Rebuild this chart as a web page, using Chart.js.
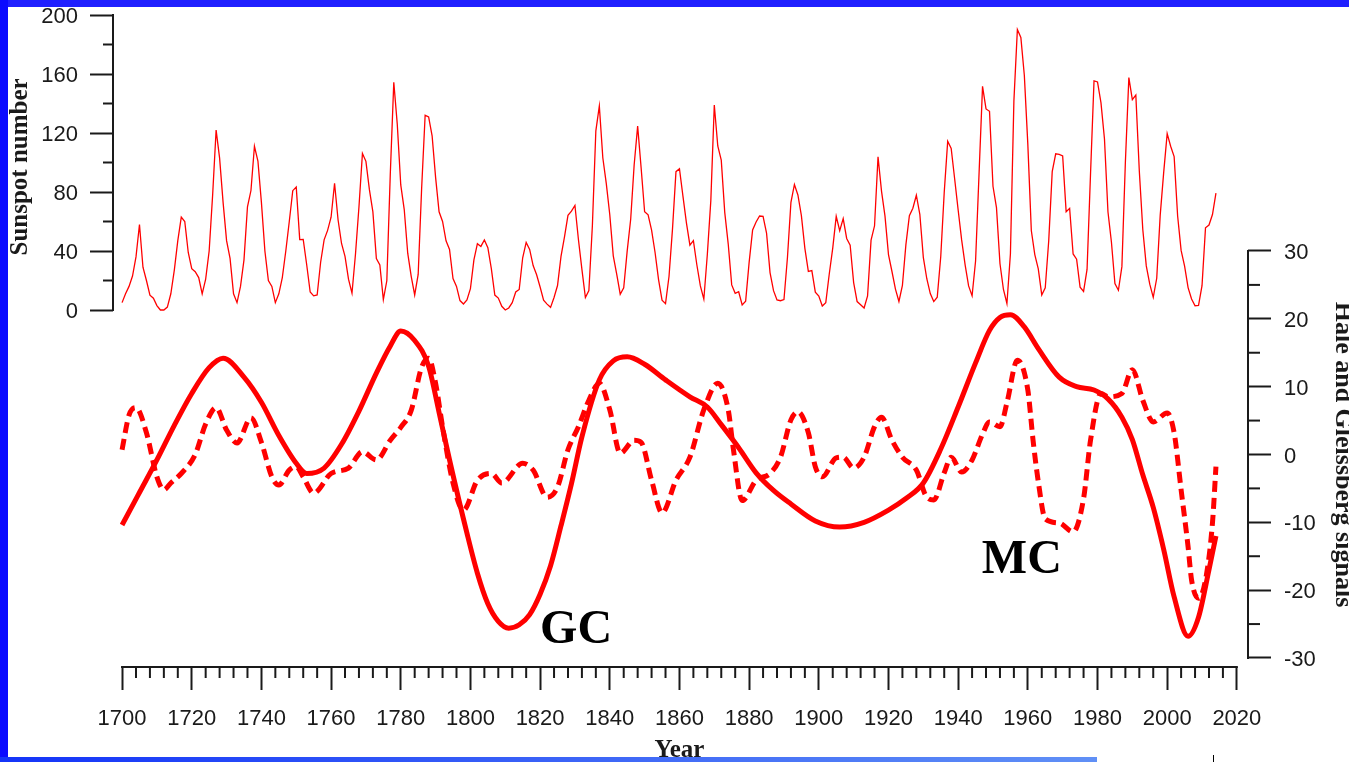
<!DOCTYPE html>
<html>
<head>
<meta charset="utf-8">
<title>Sunspot number, Hale and Gleissberg signals</title>
<script src="https://cdn.jsdelivr.net/npm/chart.js@4.4.1/dist/chart.umd.min.js"></script>
<style>
  html, body { margin: 0; padding: 0; background: #fff; overflow: hidden; }
  #wrap { position: relative; width: 1349px; height: 762px; }
  .bar { position: absolute; }
  #topBar { left: 0; top: 0; width: 1349px; height: 7px; background: #2020ff; }
  #leftBar { left: 0; top: 0; width: 8px; height: 762px; background: #0a0aff; }
  #bottomBar { left: 0; top: 757px; width: 1097px; height: 5px; background: linear-gradient(to right, #1434f8, #6090f6); }
  #mark { left: 1213px; top: 755px; width: 1px; height: 7px; background: #000; }
</style>
</head>
<body>
<div id="wrap">
  <canvas id="chart"></canvas>
  <div class="bar" id="topBar"></div>
  <div class="bar" id="leftBar"></div>
  <div class="bar" id="bottomBar"></div>
  <div class="bar" id="mark"></div>
</div>
<script>
// yearly sunspot numbers, 1700 .. 2014
const sunStart = 1700;
const sunspots = [
  5, 11, 16, 23, 36, 58, 29, 20, 10, 8,
  3, 0, 0, 2, 11, 27, 47, 63, 60, 39,
  28, 26, 22, 11, 21, 40, 78, 122, 103, 73,
  47, 35, 11, 5, 16, 34, 70, 81, 111, 101,
  73, 40, 20, 16, 5, 11, 22, 40, 60, 80.9,
  83.4, 47.7, 47.8, 30.7, 12.2, 9.6, 10.2, 32.4, 47.6, 54,
  62.9, 85.9, 61.2, 45.1, 36.4, 20.9, 11.4, 37.8, 69.8, 106.1,
  100.8, 81.6, 66.5, 34.8, 30.6, 7, 19.8, 92.5, 154.4, 125.9,
  84.8, 68.1, 38.5, 22.8, 10.2, 24.1, 82.9, 132, 130.9, 118.1,
  89.9, 66.6, 60, 46.9, 41, 21.3, 16, 6.4, 4.1, 6.8,
  14.5, 34, 45, 43.1, 47.5, 42.2, 28.1, 10.1, 8.1, 2.5,
  0, 1.4, 5, 12.2, 13.9, 35.4, 45.8, 41.1, 30.1, 23.9,
  15.6, 6.6, 4, 1.8, 8.5, 16.6, 36.3, 49.6, 64.2, 67,
  70.9, 47.8, 27.5, 8.5, 13.2, 56.9, 121.5, 138.3, 103.2, 85.7,
  64.6, 36.7, 24.2, 10.7, 15, 40.1, 61.5, 98.5, 124.7, 96.3,
  66.6, 64.5, 54.1, 39, 20.6, 6.7, 4.3, 22.7, 54.8, 93.8,
  95.8, 77.2, 59.1, 44, 47, 30.5, 16.3, 7.3, 37.6, 74,
  139, 111.2, 101.6, 66.2, 44.7, 17, 11.3, 12.4, 3.4, 6,
  32.3, 54.3, 59.7, 63.7, 63.5, 52.2, 25.4, 13.1, 6.8, 6.3,
  7.1, 35.6, 73, 85.1, 78, 64, 41.8, 26.2, 26.7, 12.1,
  9.5, 2.7, 5, 24.4, 42, 63.5, 53.8, 62, 48.5, 43.9,
  18.6, 5.7, 3.6, 1.4, 9.6, 47.4, 57.1, 103.9, 80.6, 63.6,
  37.6, 26.1, 14.2, 5.8, 16.7, 44.3, 63.9, 69, 77.8, 64.9,
  35.7, 21.2, 11.1, 5.7, 8.7, 36.1, 79.7, 114.4, 109.6, 88.8,
  67.8, 47.5, 30.6, 16.3, 9.6, 33.2, 92.6, 151.6, 136.3, 134.7,
  83.9, 69.4, 31.5, 13.9, 4.4, 38, 141.7, 190.2, 184.8, 159,
  112.3, 53.9, 37.6, 27.9, 10.2, 15.1, 47, 93.8, 105.9, 105.5,
  104.5, 66.6, 68.9, 38, 34.5, 15.5, 12.6, 27.5, 92.5, 155.4,
  154.6, 140.4, 115.9, 66.6, 45.9, 17.9, 13.4, 29.4, 100.2, 157.6,
  142.6, 145.7, 94.3, 54.6, 29.9, 17.5, 8.6, 21.5, 64.3, 93.3,
  119.6, 111, 104, 63.7, 40.4, 29.8, 15.2, 7.5, 2.9, 3.1,
  16.5, 55.7, 57.6, 64.7, 79.3
];

// Gleissberg signal (solid line)
const gleissYears = [
  1700, 1705, 1710, 1715, 1720, 1725, 1729, 1735, 1740, 1745,
  1750, 1753, 1758, 1763, 1768, 1773, 1777, 1780, 1784, 1788,
  1791, 1794, 1799, 1802, 1805, 1808, 1811, 1814, 1817, 1820,
  1823, 1826, 1829, 1832, 1837, 1841, 1845, 1850, 1856, 1863,
  1868, 1872, 1877, 1882, 1887, 1892, 1899, 1906, 1913, 1920,
  1925, 1930, 1935, 1940, 1945, 1949, 1952, 1955, 1959, 1963,
  1969, 1974, 1979, 1983, 1987, 1990, 1993, 1996, 1999, 2002,
  2006, 2009, 2012, 2014
];
const gleissValues = [
  -10.4, -5.6, -0.8, 4.3, 9, 12.8, 14.2, 11.4, 7.7, 2.8,
  -1.3, -2.8, -2, 1.5, 6.4, 12, 16, 18.2, 16.8, 13,
  6.2, -0.8, -11.6, -17.5, -22, -24.6, -25.6, -25.1, -23.6, -20.6,
  -16.4, -10.5, -4.3, 2.6, 11, 13.8, 14.4, 13.3, 11, 8.5,
  7, 4.4, 1, -2.7, -5.3, -7.3, -9.8, -10.7, -10, -8.2,
  -6.5, -4.2, 0.8, 7, 13.5, 18.3, 20.2, 20.6, 18.8, 15.6,
  11.4, 10, 9.5, 8.2, 5.5, 2.2, -3, -7.8, -14, -21,
  -26.8, -24, -17, -12
];

// Hale signal (dashed line)
const haleYears = [
  1700, 1702, 1704, 1707, 1710, 1712, 1714, 1717, 1721, 1724,
  1727, 1730, 1733, 1737, 1740, 1743, 1745, 1748, 1750, 1752,
  1755, 1760, 1765, 1769, 1773, 1777, 1780, 1783, 1786, 1788,
  1790, 1792, 1795, 1798, 1802, 1806, 1809, 1815, 1818, 1822,
  1825, 1828, 1831, 1834, 1837, 1840, 1843, 1847, 1849, 1852,
  1855, 1859, 1863, 1867, 1871, 1874, 1875.5, 1878, 1882, 1886,
  1889, 1892, 1894, 1897, 1899, 1901, 1905, 1907, 1910, 1913,
  1916, 1918, 1921, 1924, 1928, 1931, 1933, 1936, 1938, 1941,
  1944, 1947, 1949, 1952, 1954, 1957, 1960, 1961.5, 1963, 1965,
  1969, 1973, 1976, 1978, 1981, 1983, 1987, 1990, 1993, 1996,
  2000, 2002, 2004, 2006, 2007, 2009, 2011, 2013, 2014
];
const haleValues = [
  0.7, 5.8, 6.9, 3.2, -3.3, -5.2, -4.2, -2.8, 0, 4.5,
  6.9, 3.6, 1.7, 5.4, 1.8, -3.3, -4.5, -2.3, -1.8, -3.3,
  -5.7, -2.8, -2, 0.4, -0.8, 2.1, 4, 6.5, 12.9, 14.2,
  10.5, 4.1, -4.2, -8.2, -3.8, -2.8, -4.2, -1.3, -2.3, -6.3,
  -4.8, 0.7, 4.1, 8, 10.5, 6.6, 0.2, 2.1, 1.8, -3.8,
  -8.6, -3.8, -0.4, 6.6, 10.5, 6.6, 0.7, -6.8, -3.8, -2.8,
  -0.4, 5.1, 6.3, 3.2, -1.8, -3.3, -0.5, -0.4, -2, -0.4,
  4.1, 5.5, 2.1, -0.4, -2.3, -6.3, -6.7, -2.7, -0.4, -2.6,
  -0.8, 3, 4.8, 4.1, 7.6, 13.9, 9.5, 2.1, -4, -9.5,
  -10.1, -11.4, -6.5, 2.1, 9, 8.5, 9, 12.5, 8, 4.8,
  6.1, 3.2, -5.2, -13.6, -18.5, -21.2, -18.5, -10.1, -1.8
];

// axis ranges
const yearRange = [1700, 2020];
const sunRange = [0, 200];
const signalRange = [-30, 30];

const RED = '#ff0000';
const INK = '#1a1a1a';
const serif = '"Liberation Serif", "Times New Roman", serif';
const sans = '"Liberation Sans", Arial, sans-serif';

function keepTicks(lo, hi) {
  return scale => {
    scale.ticks = scale.ticks.filter(t => t.value >= lo - 1e-9 && t.value <= hi + 1e-9);
  };
}

// fixed axis sizes, and no extra label padding pushing the plot area
function fixSize(prop, size) {
  return scale => {
    scale[prop] = size;
    scale.paddingTop = 0;
    scale.paddingBottom = 0;
  };
}

// draws axis lines only over the used ranges, minor ticks, titles and GC / MC
const axisMarks = {
  id: 'axisMarks',
  afterDraw(chart) {
    const { ctx, scales: { x, ySun, ySig } } = chart;
    ctx.save();
    ctx.strokeStyle = INK;
    ctx.lineWidth = 2;

    const seg = (x1, y1, x2, y2) => {
      ctx.beginPath();
      ctx.moveTo(x1, y1);
      ctx.lineTo(x2, y2);
      ctx.stroke();
    };

    // x axis
    const xa = x.top;
    seg(x.getPixelForValue(yearRange[0]) - 1, xa, x.getPixelForValue(yearRange[1]) + 1, xa);
    for (let v = yearRange[0]; v <= yearRange[1]; v += 4) {
      if (v % 20 !== 0) seg(x.getPixelForValue(v), xa, x.getPixelForValue(v), xa + 11);
    }

    // sunspot axis
    const sa = ySun.right;
    seg(sa, ySun.getPixelForValue(sunRange[0]) + 1, sa, ySun.getPixelForValue(sunRange[1]) - 1);
    for (let v = 20; v < sunRange[1]; v += 40) {
      seg(sa - 10, ySun.getPixelForValue(v), sa, ySun.getPixelForValue(v));
    }

    // signal axis
    const ga = ySig.left;
    seg(ga, ySig.getPixelForValue(signalRange[0]) + 1, ga, ySig.getPixelForValue(signalRange[1]) - 1);
    for (let v = -25; v < signalRange[1]; v += 10) {
      seg(ga, ySig.getPixelForValue(v), ga + 12, ySig.getPixelForValue(v));
    }

    // axis titles
    ctx.fillStyle = INK;
    ctx.font = 'bold 25px ' + serif;
    ctx.textAlign = 'center';
    ctx.textBaseline = 'alphabetic';

    ctx.save();
    ctx.translate(27, ySun.getPixelForValue(97));
    ctx.rotate(-Math.PI / 2);
    ctx.fillText('Sunspot number', 0, 0);
    ctx.restore();

    ctx.save();
    ctx.translate(1336, ySig.getPixelForValue(0));
    ctx.rotate(Math.PI / 2);
    ctx.font = 'bold 26px ' + serif;
    ctx.fillText('Hale and Gleissberg signals', 0, 0);
    ctx.restore();

    ctx.fillText('Year', (x.getPixelForValue(yearRange[0]) + x.getPixelForValue(yearRange[1])) / 2, 757);

    // cycle labels
    ctx.font = 'bold 48px ' + serif;
    ctx.textAlign = 'left';
    ctx.fillStyle = '#000';
    ctx.fillText('GC', x.getPixelForValue(1820), ySig.getPixelForValue(-27.8));
    ctx.fillText('MC', x.getPixelForValue(1946.8), ySig.getPixelForValue(-17.5));

    ctx.restore();
  }
};

const sunData = sunspots.map((v, i) => ({ x: sunStart + i, y: v }));
const gleissData = gleissYears.map((yr, i) => ({ x: yr, y: gleissValues[i] }));
const haleData = haleYears.map((yr, i) => ({ x: yr, y: haleValues[i] }));

const tickFont = { family: sans, size: 22 };
const tickGrid = { drawOnChartArea: false, drawTicks: true, tickLength: 23, tickColor: INK, tickWidth: 2 };

new Chart(document.getElementById('chart'), {
  type: 'line',
  data: {
    datasets: [
      {
        label: 'Sunspot number',
        data: sunData,
        yAxisID: 'ySun',
        borderColor: RED,
        borderWidth: 1.3,
        pointRadius: 0,
        tension: 0,
      },
      {
        label: 'Gleissberg',
        data: gleissData,
        yAxisID: 'ySig',
        borderColor: RED,
        borderWidth: 5,
        pointRadius: 0,
        cubicInterpolationMode: 'monotone',
      },
      {
        label: 'Hale',
        data: haleData,
        yAxisID: 'ySig',
        borderColor: RED,
        borderWidth: 5,
        borderDash: [11, 6],
        pointRadius: 0,
        cubicInterpolationMode: 'monotone',
      },
    ],
  },
  options: {
    responsive: true,
    maintainAspectRatio: false,
    animation: false,
    layout: { padding: { top: 15, left: 0, right: 0, bottom: 0 } },
    plugins: {
      legend: { display: false },
      tooltip: { enabled: false },
    },
    scales: {
      x: {
        type: 'linear',
        position: 'bottom',
        min: 1697.4,
        max: 2023.2,
        afterBuildTicks: keepTicks(yearRange[0], yearRange[1]),
        afterFit: fixSize('height', 95),
        border: { display: false },
        grid: tickGrid,
        ticks: {
          stepSize: 20,
          includeBounds: false,
          padding: 16,
          maxRotation: 0,
          autoSkip: false,
          color: INK,
          font: tickFont,
          callback: v => String(v),
        },
      },
      ySun: {
        type: 'linear',
        position: 'left',
        min: -242.03,
        max: 200,
        afterBuildTicks: keepTicks(sunRange[0], sunRange[1]),
        afterFit: fixSize('width', 113),
        border: { display: false },
        grid: tickGrid,
        ticks: {
          stepSize: 40,
          includeBounds: false,
          padding: 12,
          labelOffset: 2,
          autoSkip: false,
          color: INK,
          font: tickFont,
          callback: v => String(v),
        },
      },
      ySig: {
        type: 'linear',
        position: 'right',
        min: -31.33,
        max: 64.79,
        afterBuildTicks: keepTicks(signalRange[0], signalRange[1]),
        afterFit: fixSize('width', 101),
        border: { display: false },
        grid: tickGrid,
        ticks: {
          stepSize: 10,
          includeBounds: false,
          padding: 13,
          labelOffset: 2,
          autoSkip: false,
          color: INK,
          font: tickFont,
          callback: v => String(v),
        },
      },
    },
  },
  plugins: [axisMarks],
});
</script>
</body>
</html>
